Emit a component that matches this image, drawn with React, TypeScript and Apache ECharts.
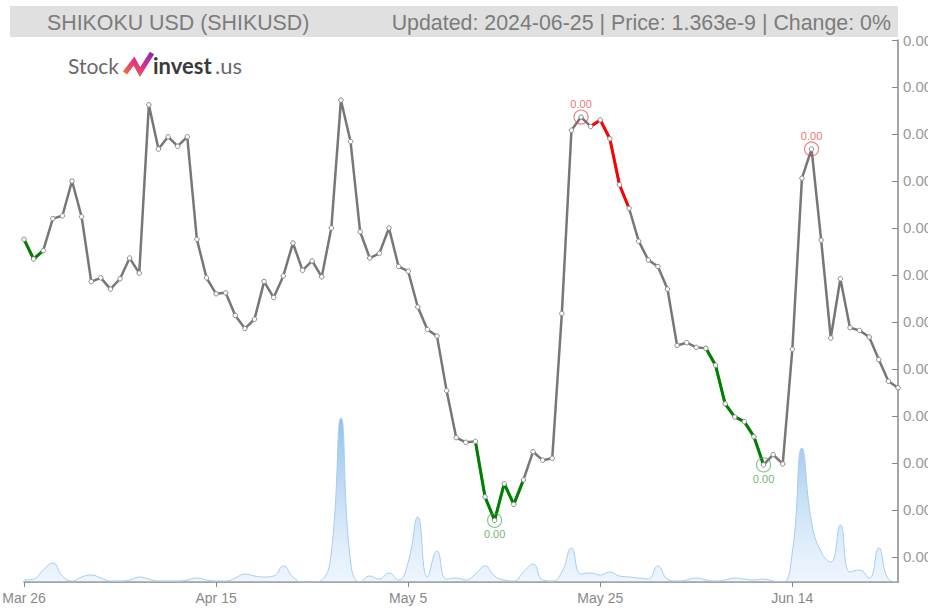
import React, { useEffect, useRef } from "react";
import * as echarts from "echarts";

// ---- data ----
const startDate = "2024-03-26";
const dayCount = 92;
const monthNames = ["Jan", "Feb", "Mar", "Apr", "May", "Jun", "Jul", "Aug", "Sep", "Oct", "Nov", "Dec"];

// price in units of 1e-9 USD
const prices = [
  1.521, 1.500, 1.509, 1.543, 1.546, 1.583, 1.545, 1.476, 1.480, 1.468,
  1.479, 1.501, 1.485, 1.664, 1.617, 1.630, 1.620, 1.630, 1.521, 1.480,
  1.463, 1.464, 1.440, 1.426, 1.436, 1.476, 1.459, 1.482, 1.517, 1.488,
  1.498, 1.481, 1.533, 1.669, 1.625, 1.529, 1.501, 1.506, 1.533, 1.492,
  1.487, 1.449, 1.425, 1.418, 1.360, 1.310, 1.305, 1.306, 1.247, 1.222,
  1.261, 1.239, 1.265, 1.295, 1.286, 1.288, 1.442, 1.637, 1.651, 1.641,
  1.648, 1.628, 1.579, 1.554, 1.519, 1.499, 1.492, 1.468, 1.408, 1.411,
  1.406, 1.405, 1.387, 1.346, 1.332, 1.327, 1.311, 1.281, 1.292, 1.282,
  1.404, 1.586, 1.617, 1.520, 1.416, 1.479, 1.427, 1.424, 1.417, 1.393,
  1.370, 1.363,
];

// relative volume
const volumes = [
  2, 3, 12, 19, 6, 1, 5, 7, 4, 1,
  1, 2, 5, 3, 1, 1, 1, 2, 4, 2,
  1, 1, 4, 8, 6, 5, 6, 16, 5, 0,
  0, 2, 30, 164, 20, 0, 6, 3, 9, 2,
  20, 65, 5, 31, 3, 4, 2, 8, 16, 6,
  2, 1, 10, 18, 2, 1, 10, 34, 8, 9,
  7, 10, 6, 5, 4, 3, 16, 3, 1, 2,
  4, 2, 1, 2, 4, 3, 2, 3, 1, 0,
  30, 134, 60, 30, 20, 57, 10, 12, 4, 34,
  3, 0,
];

const yTicks = [1.733, 1.683, 1.633, 1.583, 1.533, 1.483, 1.433, 1.383, 1.333, 1.283, 1.233, 1.183];
const yMin = 1.1564;
const yMax = 1.733;

const greenRanges = [[0, 2], [47, 52], [71, 77]];
const redRanges = [[59, 63]];
const highIdx = [58, 82];
const lowIdx = [49, 77];

const titleLeft = "SHIKOKU USD (SHIKUSD)";
const titleRight = "Updated: 2024-06-25 | Price: 1.363e-9 | Change: 0%";

function buildDates(): string[] {
  const out: string[] = [];
  const [y, m, d] = startDate.split("-").map(Number);
  const t0 = Date.UTC(y, m - 1, d);
  for (let i = 0; i < dayCount; i++) {
    out.push(new Date(t0 + i * 86400000).toISOString().slice(0, 10));
  }
  return out;
}

function fmtDate(s: string): string {
  const dt = new Date(s + "T00:00:00Z");
  return monthNames[dt.getUTCMonth()] + " " + dt.getUTCDate();
}

const fmtPrice = (v: number) => (v * 1e-9).toFixed(2);

function segment(ranges: number[][]) {
  return ranges.map(([a, b]) => prices.map((v, i) => (i >= a && i <= b ? v : null)));
}

export default function App() {
  const ref = useRef<HTMLDivElement>(null);
  useEffect(() => {
    document.body.style.margin = "0";
    if (!ref.current) return;
    const chart = echarts.init(ref.current, undefined, { renderer: "svg" });
    const dates = buildDates();
    const segLine = (data: (number | null)[], color: string) => ({
      type: "line",
      data,
      showSymbol: false,
      silent: true,
      lineStyle: { color, width: 3 },
      z: 4,
    });
    const option: any = {
      animation: false,
      grid: { left: 24, right: 30, top: 40, bottom: 26, containLabel: false, outerBoundsMode: "none" },
      xAxis: [
        {
          type: "category",
          data: dates,
          boundaryGap: false,
          axisLine: { lineStyle: { color: "#888", width: 1.5 } },
          axisTick: { interval: 19, length: 5, lineStyle: { color: "#888" } },
          axisLabel: { interval: 19, color: "#888", fontSize: 14, margin: 9, formatter: fmtDate, fontFamily: "Liberation Sans" },
          splitLine: { show: false },
        },
      ],
      yAxis: [
        {
          type: "value",
          position: "right",
          min: yMin,
          max: yMax,
          axisLine: { show: true, lineStyle: { color: "#888", width: 1.5 } },
          axisTick: { show: true, inside: true, length: 6, customValues: yTicks, lineStyle: { color: "#888" } },
          axisLabel: { customValues: yTicks, formatter: fmtPrice, color: "#999", fontSize: 15, margin: 5, fontFamily: "Liberation Sans" },
          splitLine: { show: false },
        },
        { type: "value", min: 0, max: 542, show: false },
      ],
      series: [
        {
          type: "line",
          yAxisIndex: 1,
          data: volumes,
          smooth: 0.5,
          showSymbol: false,
          silent: true,
          lineStyle: { color: "#a5cdf0", width: 1 },
          areaStyle: {
            color: new echarts.graphic.LinearGradient(0, 0, 0, 1, [
              { offset: 0, color: "rgba(90,160,225,0.95)" },
              { offset: 1, color: "rgba(200,225,248,0.45)" },
            ]),
          },
          z: 1,
        },
        {
          type: "line",
          data: prices,
          showSymbol: false,
          silent: true,
          lineStyle: { color: "#777", width: 2.5 },
          z: 3,
        },
        ...segment(greenRanges).map((d) => segLine(d, "#008000")),
        ...segment(redRanges).map((d) => segLine(d, "#ff0000")),
        {
          type: "line",
          data: prices,
          showSymbol: true,
          showAllSymbol: true,
          symbol: "circle",
          symbolSize: 4.5,
          silent: true,
          lineStyle: { width: 0, opacity: 0 },
          itemStyle: { color: "#fff", borderColor: "#888", borderWidth: 1 },
          z: 5,
        },
        {
          type: "scatter",
          data: highIdx.map((i) => [i, prices[i]]),
          symbol: "circle",
          symbolSize: 14,
          silent: true,
          itemStyle: { color: "rgba(0,0,0,0)", borderColor: "rgba(230,70,70,0.85)", borderWidth: 1.2 },
          label: { show: true, position: "top", distance: 0, formatter: (p: any) => fmtPrice(p.value[1]), color: "#e05050", fontSize: 11, fontFamily: "Liberation Sans" },
          z: 6,
        },
        {
          type: "scatter",
          data: lowIdx.map((i) => [i, prices[i]]),
          symbol: "circle",
          symbolSize: 14,
          silent: true,
          itemStyle: { color: "rgba(0,0,0,0)", borderColor: "rgba(80,170,80,0.85)", borderWidth: 1.2 },
          label: { show: true, position: "bottom", distance: 1, formatter: (p: any) => fmtPrice(p.value[1]), color: "#4aa04a", fontSize: 11, fontFamily: "Liberation Sans" },
          z: 6,
        },
      ],
      graphic: [
        { type: "rect", shape: { x: 10, y: 6, width: 888, height: 31 }, style: { fill: "#e0e0e0" }, silent: true, z: 10 },
        {
          type: "text", x: 47, y: 22, scaleX: 0.93, silent: true, z: 11,
          style: { text: titleLeft, fill: "#7c7c7c", fontSize: 23, fontFamily: "Liberation Sans", verticalAlign: "middle", align: "left" },
        },
        {
          type: "text", x: 891, y: 22, scaleX: 0.93, silent: true, z: 11,
          style: { text: titleRight, fill: "#7c7c7c", fontSize: 23, fontFamily: "Liberation Sans", verticalAlign: "middle", align: "right" },
        },
        {
          type: "text", x: 68, y: 65, silent: true, z: 11,
          style: { text: "Stock", fill: "#6a6a6a", fontSize: 21, fontFamily: "Lato", verticalAlign: "middle" },
        },
        {
          type: "polyline", silent: true, z: 11,
          shape: { points: [[125, 73], [134, 61], [140, 72], [152, 53]] },
          style: {
            stroke: new echarts.graphic.LinearGradient(0, 1, 1, 0, [
              { offset: 0, color: "#f06a3a" },
              { offset: 0.5, color: "#e0308a" },
              { offset: 1, color: "#8a2bb0" },
            ]),
            lineWidth: 5, fill: "none", lineJoin: "miter",
          },
        },
        {
          type: "text", x: 153, y: 65, silent: true, z: 11,
          style: { text: "invest", fill: "#3a3a3a", fontSize: 22, fontWeight: "bold", fontFamily: "Lato", verticalAlign: "middle" },
        },
        {
          type: "text", x: 215, y: 65, silent: true, z: 11,
          style: { text: ".us", fill: "#6a6a6a", fontSize: 22, fontFamily: "Lato", verticalAlign: "middle" },
        },
      ],
    };
    chart.setOption(option);
    return () => chart.dispose();
  }, []);
  return <div ref={ref} style={{ width: 928, height: 608 }} />;
}
